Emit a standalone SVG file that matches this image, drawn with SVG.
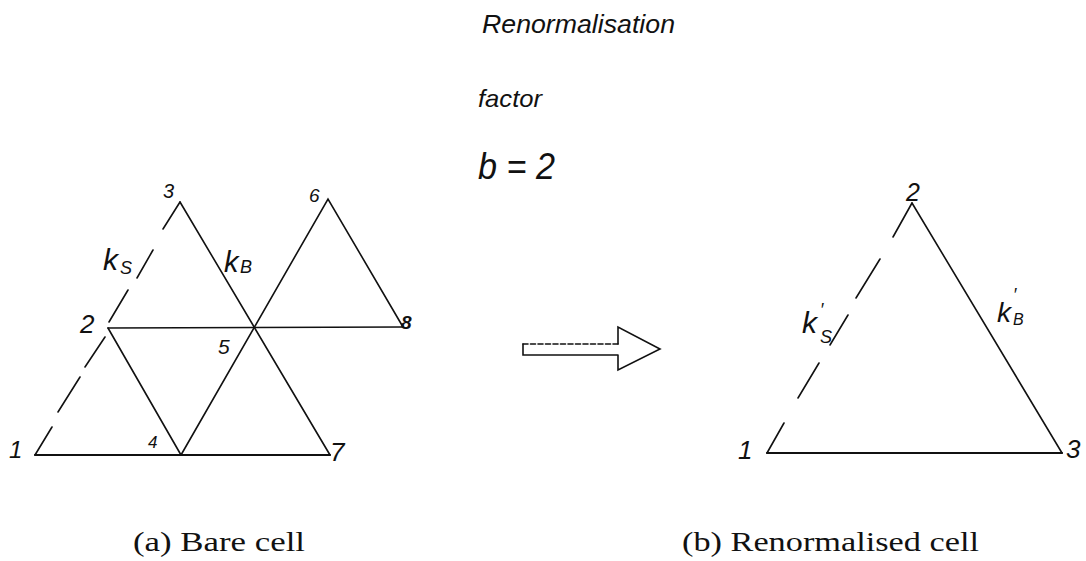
<svg xmlns="http://www.w3.org/2000/svg" width="1086" height="561" viewBox="0 0 1086 561">
<style>
.hand{font-family:"Liberation Sans","DejaVu Sans",sans-serif;font-style:italic;fill:#111}
.cap{font-family:"Liberation Serif","DejaVu Serif",serif;fill:#111;font-size:27px}
.e{stroke:#111;stroke-width:1.6;fill:none;stroke-linecap:round}
.b{stroke:#111;stroke-width:2.2;fill:none;stroke-linecap:round}
</style>
<rect width="1086" height="561" fill="#fff"/>
<g id="title">
<text class="hand" x="482" y="33" font-size="25" textLength="193" lengthAdjust="spacingAndGlyphs">Renormalisation</text>
<text class="hand" x="478" y="107" font-size="24" textLength="64" lengthAdjust="spacingAndGlyphs">factor</text>
<text class="hand" x="478" y="179" font-size="36" textLength="77" lengthAdjust="spacingAndGlyphs">b = 2</text>
</g>
<g id="connectors">
<g id="left-cell">
<path class="e" d="M180,202 L163,229 M153,250 L137,278 M128,290 L109,322 M105,337 L85,367 M80,377 L58,412 M52,427 L35,455"/>
<path class="e" d="M180,202 L330,455"/>
<path class="e" d="M108,328 L403,327"/>
<path class="e" d="M108,328 L181,455"/>
<path class="e" d="M181,455 L328,199 L403,327"/>
<path class="b" d="M35,455 L330,455"/>
</g>
<g id="arrow">
<path class="e" d="M523,344 L618,344" stroke-dasharray="5,2.5" stroke-width="1.3"/>
<path class="e" d="M523,344 L523,355 L618,355 M618,344 L618,327 L660,349 L618,370 L618,355"/>
</g>
<g id="right-cell">
<path class="e" d="M912,203 L893,237 M880,259 L856,298 M848,315 L830,345 M819,363 L798,398 M784,423 L767,453"/>
<path class="e" d="M912,203 L1062,453"/>
<path class="b" d="M767,453 L1062,453"/>
</g>
</g>
<g id="node-L1"><text class="hand" x="9" y="458" font-size="24">1</text></g>
<g id="node-L2"><text class="hand" x="80" y="333" font-size="26">2</text></g>
<g id="node-L3"><text class="hand" x="163" y="198" font-size="20">3</text></g>
<g id="node-L4"><text class="hand" x="148" y="448" font-size="17">4</text></g>
<g id="node-L5"><text class="hand" x="218" y="354" font-size="21">5</text></g>
<g id="node-L6"><text class="hand" x="309" y="202" font-size="19">6</text></g>
<g id="node-L7"><text class="hand" x="330" y="461" font-size="26">7</text></g>
<g id="node-L8"><text class="hand" x="401" y="329" font-size="19" font-weight="bold">8</text></g>
<g id="label-kS">
<text class="hand" x="103" y="270" font-size="30">k</text>
<text class="hand" x="120" y="274" font-size="18">S</text>
</g>
<g id="label-kB">
<text class="hand" x="224" y="272" font-size="29">k</text>
<text class="hand" x="240" y="273" font-size="18">B</text>
</g>
<g id="node-R1"><text class="hand" x="738" y="459" font-size="26">1</text></g>
<g id="node-R2"><text class="hand" x="906" y="201" font-size="25">2</text></g>
<g id="node-R3"><text class="hand" x="1066" y="458" font-size="26">3</text></g>
<g id="label-kS2">
<text class="hand" x="802" y="333" font-size="30">k</text>
<text class="hand" x="820" y="316" font-size="18">′</text>
<text class="hand" x="820" y="343" font-size="18">S</text>
</g>
<g id="label-kB2">
<text class="hand" x="997" y="322" font-size="28">k</text>
<text class="hand" x="1013" y="301" font-size="18">′</text>
<text class="hand" x="1013" y="325" font-size="16">B</text>
</g>
<g id="captions">
<text class="cap" x="133" y="551" textLength="172" lengthAdjust="spacingAndGlyphs">(a) Bare cell</text>
<text class="cap" x="682" y="551" textLength="297" lengthAdjust="spacingAndGlyphs">(b) Renormalised cell</text>
</g>
</svg>
